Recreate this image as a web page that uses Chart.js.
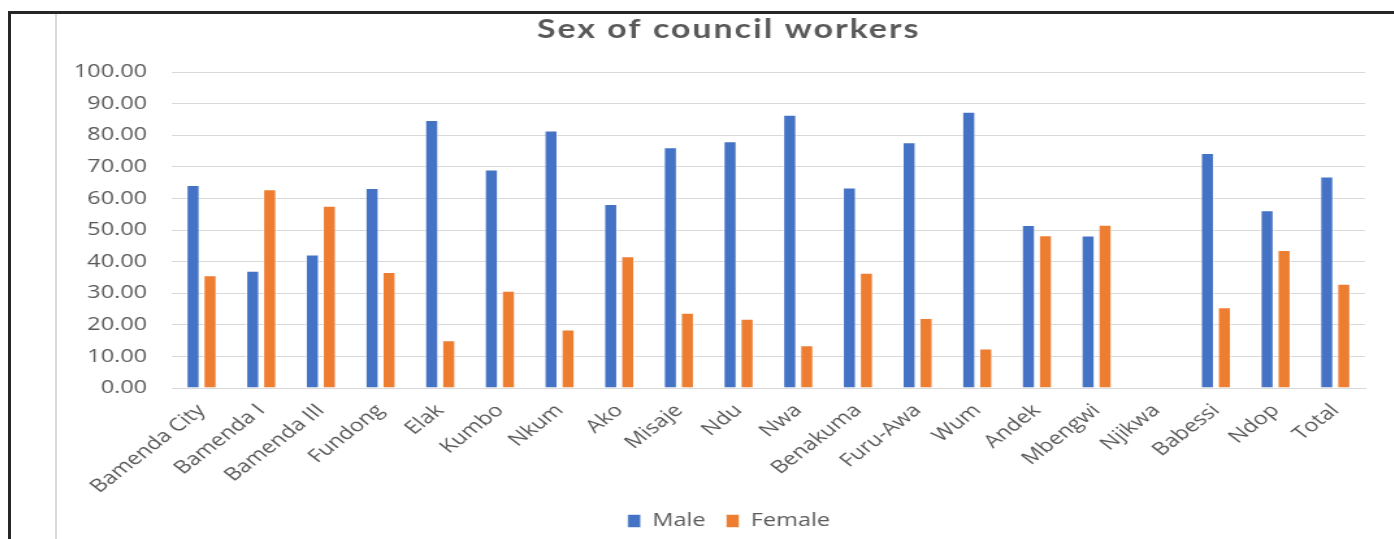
<!DOCTYPE html>
<html>
<head>
<meta charset="utf-8">
<title>Sex of council workers</title>
<script src="https://cdn.jsdelivr.net/npm/chart.js@4/dist/chart.umd.min.js"></script>
<style>
  html, body { margin: 0; padding: 0; background: #ffffff; overflow: hidden; width: 1394px; height: 539px; }
  #frame { position: absolute; left: 8px; top: 11px; width: 1400px; height: 600px;
           border-top: 3px solid #262626; border-left: 3px solid #262626; }
  #rule { position: absolute; left: 55px; top: 14px; width: 2px; height: 530px; background: #d9d9d9; }
  /* the chart is laid out narrow and widened on screen */
  #stage { position: absolute; left: 56px; top: 0; width: 1035px; height: 539px;
           transform: scaleX(1.3); transform-origin: 0 0; }
  #stage canvas { display: block; }
</style>
</head>
<body>
<div id="frame"></div>
<div id="rule"></div>
<div id="stage"><canvas id="c" width="1035" height="539"></canvas></div>
<script>
// Councils, in axis order
const categories = [
  'Bamenda City', 'Bamenda I', 'Bamenda III', 'Fundong', 'Elak', 'Kumbo', 'Nkum',
  'Ako', 'Misaje', 'Ndu', 'Nwa', 'Benakuma', 'Furu-Awa', 'Wum', 'Andek', 'Mbengwi',
  'Njikwa', 'Babessi', 'Ndop', 'Total'
];

// Share of workers (%) by sex; Njikwa has no data
const maleValues = [
  64.3, 37.1, 42.3, 63.3, 84.9, 69.2, 81.5, 58.3, 76.2, 78.1,
  86.5, 63.5, 77.8, 87.5, 51.6, 48.3, null, 74.4, 56.3, 67.0
];
const femaleValues = [
  35.7, 62.9, 57.7, 36.7, 15.1, 30.8, 18.5, 41.7, 23.8, 21.9,
  13.5, 36.5, 22.2, 12.5, 48.4, 51.7, null, 25.6, 43.7, 33.0
];

// Value axis ticks
const yTickValues = [0, 10, 20, 30, 40, 50, 60, 70, 80, 90, 100];

const TEXT = '#595959';
const GRID = '#d9d9d9';
const BODY_FONT = "'Open Sans', 'Noto Sans', sans-serif";

const chart = new Chart(document.getElementById('c'), {
  type: 'bar',
  data: {
    labels: categories,
    datasets: [
      {
        label: 'Male',
        data: maleValues,
        backgroundColor: '#4472C4',
        borderColor: 'rgba(255,255,255,0.55)',
        borderWidth: 1
      },
      {
        label: 'Female',
        data: femaleValues,
        backgroundColor: '#ED7D31',
        borderColor: 'rgba(255,255,255,0.55)',
        borderWidth: 1
      }
    ]
  },
  options: {
    responsive: false,
    animation: false,
    devicePixelRatio: 1,
    categoryPercentage: 0.57,
    barPercentage: 0.8,
    layout: { padding: { left: 0, right: 0, top: 0, bottom: -1 } },
    plugins: {
      title: {
        display: true,
        text: 'Sex of council workers',
        color: TEXT,
        font: { family: "'Lato', 'DejaVu Sans', sans-serif", size: 26, weight: 'bold' },
        padding: { top: 14, bottom: 27 }
      },
      legend: {
        position: 'bottom',
        labels: {
          boxWidth: 10,
          boxHeight: 13,
          padding: 16,
          color: TEXT,
          font: { family: BODY_FONT, size: 18 }
        }
      },
      tooltip: { enabled: false }
    },
    scales: {
      x: {
        grid: { display: false },
        border: { display: true, color: GRID, width: 1 },
        ticks: {
          autoSkip: false,
          maxRotation: 45,
          minRotation: 45,
          padding: 4,
          color: TEXT,
          font: { family: BODY_FONT, size: 18 }
        },
        afterFit: (scale) => { scale.height = 108; }
      },
      y: {
        min: 0,
        max: 100,
        grid: { color: GRID, lineWidth: 1, drawTicks: false },
        border: { display: false },
        ticks: {
          padding: 19,
          color: TEXT,
          font: { family: BODY_FONT, size: 18 },
          callback: (v) => Number(v).toFixed(2)
        },
        afterBuildTicks: (scale) => { scale.ticks = yTickValues.map(v => ({ value: v })); },
        afterFit: (scale) => { scale.width = 89; }
      },
      // empty right-hand margin beside the plot
      margin: {
        type: 'linear',
        position: 'right',
        grid: { display: false },
        border: { display: false },
        ticks: { display: false },
        afterFit: (scale) => { scale.width = 28; }
      }
    }
  }
});

// Spaced-out lettering for the chart title
const titleBox = chart.titleBlock;
const drawTitle = titleBox.draw.bind(titleBox);
titleBox.draw = function () {
  const ctx = this.ctx;
  ctx.save();
  ctx.letterSpacing = '1.6px';
  drawTitle();
  ctx.restore();
};
chart.draw();
</script>
</body>
</html>
